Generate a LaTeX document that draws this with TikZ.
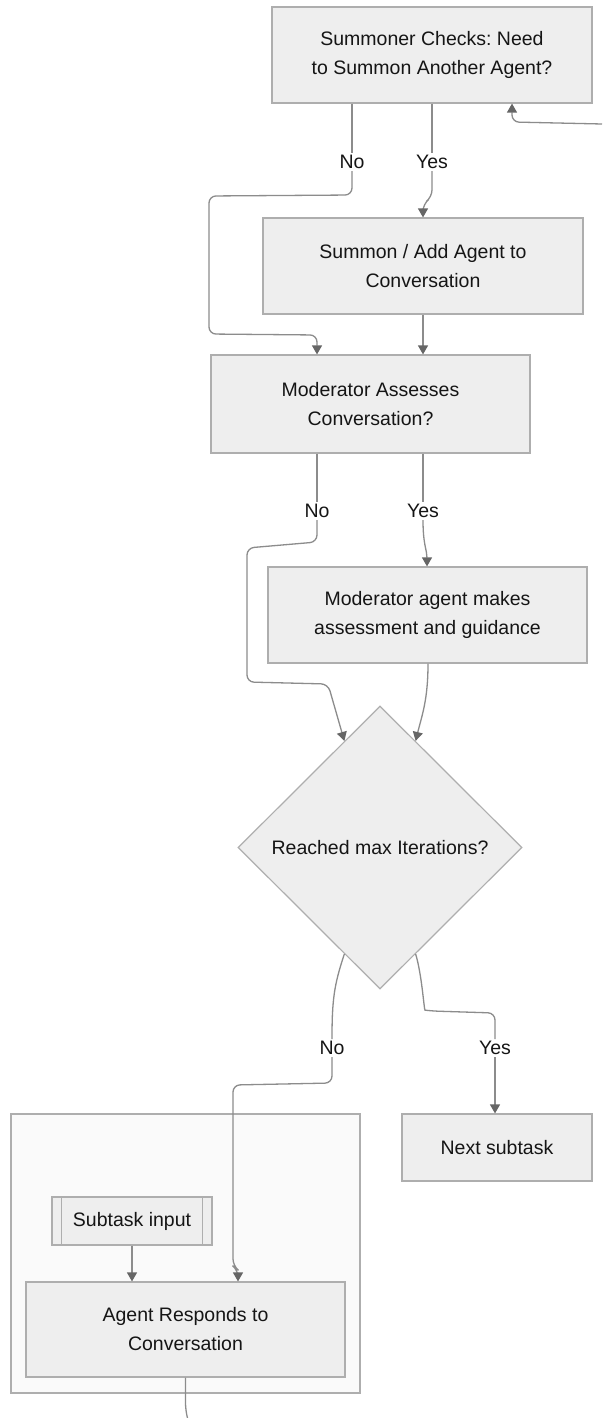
\documentclass[tikz,border=0pt]{standalone}
\usepackage{fontspec}
\setmainfont{Liberation Sans}
\frenchspacing
\usetikzlibrary{shapes.geometric,arrows.meta,calc}
\definecolor{boxfill}{HTML}{EEEEEE}
\definecolor{boxline}{HTML}{AEAEAE}
\definecolor{edgeline}{HTML}{8C8C8C}
\definecolor{tipcol}{HTML}{666666}
\definecolor{txt}{HTML}{151515}
\definecolor{clusterfill}{HTML}{FAFAFA}
\begin{document}
\begin{tikzpicture}[x=1pt,y=-1pt,
  font=\fontsize{19.5}{29}\selectfont,
  proc/.style={draw=boxline,fill=boxfill,line width=1.2pt,text=txt,align=center,inner sep=0pt},
  lbl/.style={fill=white,text=txt,inner sep=2pt},
  edge/.style={draw=edgeline,line width=1.3pt},
  arr/.style={edge,rounded corners=7pt,-{Triangle[length=9pt,width=10pt,fill=tipcol,color=tipcol]}}
]
\useasboundingbox (0,0) rectangle (602,1418);
\fill[white] (0,0) rectangle (602,1418);

% cluster
\node[draw=boxline,fill=clusterfill,line width=1.2pt,minimum width=349pt,minimum height=279pt,inner sep=0pt] (cluster) at (185.5,1253.5) {};

% nodes
\node[proc,minimum width=320pt,minimum height=96pt] (box1) at (432,55) {Summoner Checks: Need\\to Summon Another Agent?};
\node[proc,minimum width=320pt,minimum height=96pt] (box2) at (423,266) {Summon / Add Agent to\\Conversation};
\node[proc,minimum width=319pt,minimum height=98pt] (box3) at (370.5,404) {Moderator Assesses\\Conversation?};
\node[proc,minimum width=319pt,minimum height=96pt] (box4) at (427.5,615) {Moderator agent makes\\assessment and guidance};
\node[proc,diamond,aspect=1,minimum width=284pt,minimum height=283pt] (dia) at (380,847.5) {Reached max Iterations?};
\node[proc,minimum width=190pt,minimum height=67pt] (next) at (497,1147.5) {Next subtask};
\node[proc,minimum width=160pt,minimum height=48pt] (sub) at (132,1221) {Subtask input};
\draw[boxline,line width=1.2pt] ($(sub.north west)+(10,0)$) -- ($(sub.south west)+(10,0)$);
\draw[boxline,line width=1.2pt] ($(sub.north east)+(-10,0)$) -- ($(sub.south east)+(-10,0)$);
\node[proc,minimum width=319pt,minimum height=95pt] (agent) at (185.5,1329.5) {Agent Responds to\\Conversation};

% labels
\node[lbl] (n1) at (352,162) {No};
\node[lbl] (y1) at (432,162) {Yes};
\node[lbl] (n3) at (317,511) {No};
\node[lbl] (y3) at (423,511) {Yes};
\node[lbl] (n4) at (332,1048) {No};
\node[lbl] (y4) at (495,1048) {Yes};

\coordinate (loopin) at (602,124);
\coordinate (loopout) at (187.5,1418);

% edges from box1
\draw[edge] (box1.south -| n1) -- (n1.north);
\draw[arr] (n1.south) -- (352,195) -- (209,196) -- (209,334) -- (317,335) -- (box3.north -| n3);
\draw[edge] (box1.south -| y1) -- (y1.north);
\draw[arr] (y1.south) -- (432,197) -- (423,204) -- (box2.north);
\draw[arr] (box2.south) -- (box3.north -| box2);
% edges from box3
\draw[edge] (box3.south -| n3) -- (n3.north);
\draw[arr] (n3.south) -- (317,542) -- (247,548) -- (247,682) -- (328,684) -- ($(dia.north)!0.25!(dia.west)$);
\draw[edge] (box3.south -| y3) -- (y3.north);
\draw[arr,rounded corners=0pt] (y3.south) .. controls (423,545) and (427,550) .. (box4.north -| 427,0);
\draw[arr,rounded corners=0pt] (box4.south -| 428,0) .. controls (428,700) and (422,715) .. ($(dia.north)!0.25!(dia.east)$);
% edges from diamond
\draw[edge] ($(dia.south)!0.25!(dia.west)$) .. controls (334,985) and (332,1000) .. (n4.north);
\draw[arr] (n4.south) -- (332,1083) -- (233,1085) -- (233,1266) -- (238,1270) -- (agent.north -| 238,0);
\draw[edge,rounded corners=7pt] ($(dia.south)!0.25!(dia.east)$) .. controls (422,975) and (424,1010) .. (432,1011) -- (495,1013) -- (y4.north);
\draw[arr] (y4.south) -- (next.north -| y4);
% inside cluster
\draw[arr] (sub.south) -- (agent.north -| sub);
% loop
\draw[edge,rounded corners=7pt] (agent.south) -- (185.5,1410) -- (loopout);
\draw[arr] (loopin) -- (512,122) -- (box1.south -| 512,0);
\end{tikzpicture}
\end{document}
